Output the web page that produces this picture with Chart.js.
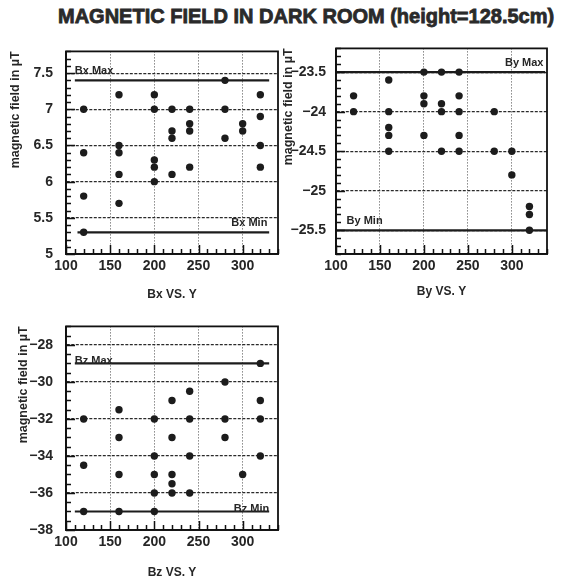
<!DOCTYPE html>
<html>
<head>
<meta charset="utf-8">
<script src="https://cdn.jsdelivr.net/npm/chart.js@4.4.1/dist/chart.umd.min.js"></script>
<style>
  html, body { margin: 0; padding: 0; background: #fff; }
  body { width: 565px; height: 582px; position: relative; overflow: hidden;
         font-family: "Liberation Sans", Arial, sans-serif; }
  #title { position: absolute; left: 58px; top: 5px; white-space: nowrap;
           font: bold 20px "Liberation Sans", Arial, sans-serif; color: #2a2a2a;
           -webkit-text-stroke: 0.8px #2a2a2a; letter-spacing: 0px; }
  .panel { position: absolute; }
  canvas { display: block; }
</style>
</head>
<body>
<div id="title">MAGNETIC FIELD IN DARK ROOM (height=128.5cm)</div>
<div class="panel" style="left:0;top:30px"><canvas id="cBx" width="285" height="280"></canvas></div>
<div class="panel" style="left:280px;top:30px"><canvas id="cBy" width="285" height="280"></canvas></div>
<div class="panel" style="left:0;top:305px"><canvas id="cBz" width="285" height="277"></canvas></div>

<script>
// Measurement positions Y (cm) and field readings (µT), one pair per reading
const bxPos = [120,120,120,120, 160,160,160,160,160, 200,200,200,200,200, 220,220,220,220,
               240,240,240,240, 280,280,280, 300,300, 320,320,320,320];
const bxVal = [7.0,6.4,5.8,5.3, 7.2,6.5,6.4,6.1,5.7, 7.2,7.0,6.3,6.2,6.0, 7.0,6.7,6.6,6.1,
               7.0,6.8,6.7,6.2, 7.4,7.0,6.6, 6.8,6.7, 7.2,6.9,6.5,6.2];

const byPos = [120,120, 160,160,160,160,160, 200,200,200,200, 220,220,220,220,
               240,240,240,240,240, 280,280, 300,300, 320,320,320];
const byVal = [-23.8,-24.0, -23.6,-24.0,-24.2,-24.3,-24.5, -23.5,-23.8,-23.9,-24.3,
               -23.5,-23.9,-24.0,-24.5, -23.5,-23.8,-24.0,-24.3,-24.5, -24.0,-24.5,
               -24.5,-24.8, -25.2,-25.3,-25.5];

const bzPos = [120,120,120, 160,160,160,160, 200,200,200,200,200, 220,220,220,220,220,
               240,240,240,240, 280,280,280, 300, 320,320,320,320];
const bzVal = [-32,-34.5,-37, -31.5,-33,-35,-37, -32,-34,-35,-36,-37, -31,-33,-35,-35.5,-36,
               -30.5,-32,-34,-36, -30,-32,-33, -35, -29,-31,-32,-34];

// Max / min reference levels
const bxLimits = { max: 7.4, min: 5.3 };
const byLimits = { max: -23.5, min: -25.5 };
const bzLimits = { max: -29, min: -37 };

// Axis ranges and tick values
const xRange = [100, 340];
const xTicks = [100, 150, 200, 250, 300];
const bxRange = [5, 7.8];
const bxTicks = [5, 5.5, 6, 6.5, 7, 7.5];
const byRange = [-25.8, -23.2];
const byTicks = [-25.5, -25, -24.5, -24, -23.5];
const bzRange = [-38, -27];
const bzTicks = [-38, -36, -34, -32, -30, -28];

const INK = '#1c1c1c';
const TEXT = '#262626';
const FONT = '"Liberation Sans", Arial, sans-serif';

const fmt = v => String(v).replace('-', '\u2212');

// Frame around the plot area plus inward minor/major tick marks on the left and bottom axes
function framePlugin(spec) {
  return {
    id: 'frameTicks',
    afterDraw(chart) {
      const ctx = chart.ctx, a = chart.chartArea;
      const x = chart.scales.x, y = chart.scales.y;
      const xs = [], ys = [];
      for (let i = 0; xRange[0] + i * spec.xMinor <= xRange[1] + 1e-9; i++) xs.push(xRange[0] + i * spec.xMinor);
      const first = Math.ceil(spec.yRange[0] / spec.yMinor - 1e-6);
      for (let i = first; i * spec.yMinor <= spec.yRange[1] + 1e-9; i++) ys.push(i * spec.yMinor);
      const isMajor = (v, step) => Math.abs(v / step - Math.round(v / step)) < 1e-6;
      ctx.save();
      ctx.setLineDash([]);
      ctx.strokeStyle = '#111';
      ctx.lineWidth = 1.5;
      ctx.beginPath();
      xs.forEach(v => {
        const px = Math.round(x.getPixelForValue(v)) + 0.5;
        ctx.moveTo(px, a.bottom);
        ctx.lineTo(px, a.bottom - (isMajor(v, spec.xMajor) ? 9 : 5));
      });
      ys.forEach(v => {
        const py = Math.round(y.getPixelForValue(v)) + 0.5;
        ctx.moveTo(a.left, py);
        ctx.lineTo(a.left + (isMajor(v, spec.yMajor) ? 9 : 5), py);
      });
      ctx.stroke();
      ctx.lineWidth = 1.8;
      ctx.strokeRect(a.left, a.top, a.right - a.left, a.bottom - a.top);
      ctx.restore();
    }
  };
}

// Text tags for the max / min reference lines
function refLabelPlugin(items) {
  return {
    id: 'refLabels',
    afterDatasetsDraw(chart) {
      const ctx = chart.ctx, x = chart.scales.x, y = chart.scales.y;
      ctx.save();
      ctx.font = 'bold 11px ' + FONT;
      ctx.fillStyle = TEXT;
      ctx.textBaseline = 'alphabetic';
      items.forEach(it => {
        ctx.textAlign = it.align;
        ctx.fillText(it.text, x.getPixelForValue(it.x), y.getPixelForValue(it.y) - it.lift);
      });
      ctx.restore();
    }
  };
}

function makePanel(id, cfg) {
  const points = cfg.pos.map((p, i) => ({ x: p, y: cfg.val[i] }));
  const refLine = (v, span) => ({
    type: 'line', data: [{ x: span[0], y: v }, { x: span[1], y: v }],
    borderColor: INK, borderWidth: 2.2, pointRadius: 0, showLine: true, order: 2
  });
  return new Chart(document.getElementById(id), {
    type: 'scatter',
    data: {
      datasets: [
        { data: points, pointRadius: 3.7, pointBackgroundColor: INK, pointBorderWidth: 0, order: 1 },
        refLine(cfg.limits.max, cfg.maxSpan),
        refLine(cfg.limits.min, cfg.minSpan)
      ]
    },
    options: {
      responsive: false,
      animation: false,
      layout: { padding: cfg.pad },
      plugins: {
        legend: { display: false },
        tooltip: { enabled: false }
      },
      scales: {
        x: {
          type: 'linear', min: xRange[0], max: xRange[1],
          afterBuildTicks: s => { s.ticks = xTicks.map(v => ({ value: v })); },
          afterFit: s => { s.height = cfg.xHeight; },
          grid: { color: '#4a4a4a', lineWidth: 1, drawTicks: false },
          border: { display: true, color: INK, width: 1.8, dash: [1, 2] },
          ticks: { padding: 4, color: TEXT, font: { family: FONT, size: 14, weight: 'bold' },
                   maxRotation: 0, callback: v => fmt(v) },
          title: { display: true, text: cfg.xTitle, color: TEXT,
                   font: { family: FONT, size: 12, weight: 'bold' }, padding: { top: 0, bottom: cfg.xTitlePad } }
        },
        y: {
          type: 'linear', min: cfg.yRange[0], max: cfg.yRange[1],
          afterBuildTicks: s => { s.ticks = cfg.yTicks.map(v => ({ value: v })); },
          afterFit: s => { s.width = cfg.yWidth; },
          grid: { color: '#2a2a2a', lineWidth: 1.2, drawTicks: false },
          border: { display: true, color: INK, width: 1.8, dash: [3, 1.5] },
          ticks: { padding: cfg.yTickPad, color: TEXT, font: { family: FONT, size: 14, weight: 'bold' },
                   callback: v => fmt(v) },
          title: { display: true, text: 'magnetic field in \u00b5T', align: 'end', color: TEXT,
                   font: { family: FONT, size: 12.5, weight: 'bold' }, padding: { top: cfg.yTitlePad, bottom: 0 } }
        }
      }
    },
    plugins: [
      framePlugin({ xMinor: 10, xMajor: 50, yMinor: cfg.yMinor, yMajor: cfg.yMajor, yRange: cfg.yRange }),
      refLabelPlugin(cfg.labels)
    ]
  });
}

makePanel('cBx', {
  pos: bxPos, val: bxVal, limits: bxLimits, yRange: bxRange, yTicks: bxTicks,
  yMinor: 0.1, yMajor: 0.5, maxSpan: [110, 330], minSpan: [113, 330],
  pad: { left: 0, top: 10, right: 7, bottom: 0 }, yWidth: 66, xHeight: 56,
  yTickPad: 13, yTitlePad: 8.5, xTitlePad: 8, xTitle: 'Bx VS. Y',
  labels: [
    { text: 'Bx Max', x: 110, y: bxLimits.max, align: 'left', lift: 6 },
    { text: 'Bx Min', x: 328, y: bxLimits.min, align: 'right', lift: 6 }
  ]
});

makePanel('cBy', {
  pos: byPos, val: byVal, limits: byLimits, yRange: byRange, yTicks: byTicks,
  yMinor: 0.1, yMajor: 0.5, maxSpan: [100, 338], minSpan: [100, 340],
  pad: { left: 0, top: 9, right: 18, bottom: 0 }, yWidth: 56, xHeight: 56,
  yTickPad: 10, yTitlePad: 1, xTitlePad: 11, xTitle: 'By VS. Y',
  labels: [
    { text: 'By Max', x: 336, y: byLimits.max, align: 'right', lift: 6 },
    { text: 'By Min', x: 112, y: byLimits.min, align: 'left', lift: 6 }
  ]
});

makePanel('cBz', {
  pos: bzPos, val: bzVal, limits: bzLimits, yRange: bzRange, yTicks: bzTicks,
  yMinor: 0.5, yMajor: 2, maxSpan: [110, 330], minSpan: [110, 330],
  pad: { left: 0, top: 10, right: 7, bottom: 0 }, yWidth: 66, xHeight: 52,
  yTickPad: 13, yTitlePad: 16, xTitlePad: 2, xTitle: 'Bz VS. Y',
  labels: [
    { text: 'Bz Max', x: 110, y: bzLimits.max, align: 'left', lift: -1 },
    { text: 'Bz Min', x: 330, y: bzLimits.min, align: 'right', lift: -1 }
  ]
});
</script>
</body>
</html>
